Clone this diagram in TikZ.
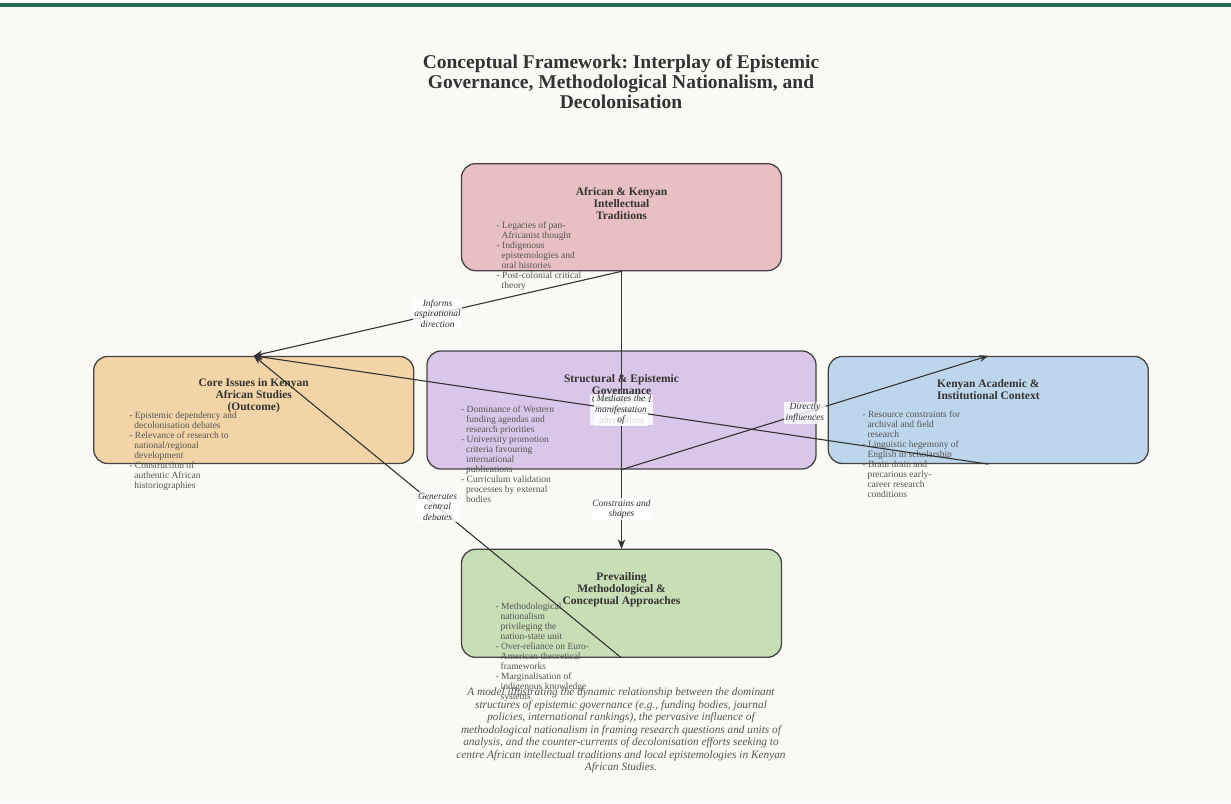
\documentclass[tikz,border=0pt]{standalone}
\usepackage{fontspec}
\setmainfont{Liberation Serif}
\usetikzlibrary{positioning, arrows.meta}
\frenchspacing

\definecolor{framebg}{HTML}{FAF9F6}
\definecolor{topbar}{HTML}{216B52}
\definecolor{titlegray}{HTML}{333333}
\definecolor{bodygray}{HTML}{555555}
\definecolor{edgegray}{HTML}{444444}
\definecolor{linegray}{HTML}{333333}
\definecolor{afrfill}{HTML}{E8BFC3}
\definecolor{corefill}{HTML}{F2D4A6}
\definecolor{govfill}{HTML}{DAC6E8}
\definecolor{kenfill}{HTML}{BED6EB}
\definecolor{methfill}{HTML}{C8DEB6}

\newcommand{\hin}{\hspace*{5pt}}

\begin{document}
\begin{tikzpicture}[x=1pt, y=1pt,
  >={Stealth[length=9pt, width=7pt]},
  panel/.style={draw=edgegray, line width=1.3pt, rounded corners=14pt,
    minimum width=320pt, minimum height=107pt, inner sep=0pt},
  paneltitle/.style={font=\fontsize{11.5}{12}\selectfont\bfseries,
    text=titlegray, align=center, inner sep=0pt},
  panelbody/.style={font=\fontsize{9.5}{10}\selectfont, text=bodygray,
    align=left, inner sep=0pt, anchor=north west},
  flowlabel/.style={font=\fontsize{9.5}{10.5}\selectfont\itshape, text=titlegray,
    align=center, fill=white, fill opacity=0.8, text opacity=1, inner sep=1.5pt},
  flow/.style={->, draw=linegray, line width=1.1pt}]

  % background and top rule
  \fill[framebg] (0,0) rectangle (1231,803);
  \fill[topbar] (0,796) rectangle (1231,799.5);

  \node[font=\fontsize{19.5}{20}\selectfont\bfseries, text=titlegray, align=center,
    inner sep=0pt] (title) at (621,721.5)
  {Conceptual Framework: Interplay of Epistemic\\
   Governance, Methodological Nationalism, and\\
   Decolonisation};

  % panels
  \node[panel, fill=govfill, minimum width=389pt, minimum height=118pt] (gov) at (621.5,393) {};
  \node[panel, fill=afrfill, above=79pt of gov]                          (afr) {};
  \node[panel, fill=corefill, left=12pt of gov]                          (core) {};
  \node[panel, fill=kenfill, right=11pt of gov]                          (ken) {};
  \node[panel, fill=methfill, minimum height=108pt, below=79pt of gov]   (meth) {};

  % panel titles
  \node[paneltitle] (afr title)  at ([yshift=13.5pt]afr.center)
  {African \& Kenyan\\Intellectual\\Traditions};
  \node[paneltitle] (core title) at ([yshift=14.5pt]core.center)
  {Core Issues in Kenyan\\African Studies\\(Outcome)};
  \node[paneltitle] (gov title)  at ([yshift=25.5pt]gov.center)
  {Structural \& Epistemic\\Governance};
  \node[paneltitle] (ken title)  at ([yshift=20pt]ken.center)
  {Kenyan Academic \&\\Institutional Context};
  \node[paneltitle] (meth title) at ([yshift=14pt]meth.center)
  {Prevailing\\Methodological \&\\Conceptual Approaches};

  % panel bullet lists
  \node[panelbody] (afr body)  at ([xshift=-125pt, yshift=-4pt]afr.center)
  {- Legacies of pan-\\\hin Africanist thought\\- Indigenous\\\hin epistemologies and\\
   \hin oral histories\\- Post-colonial critical\\\hin theory};
  \node[panelbody] (core body) at ([xshift=-124.5pt, yshift=-2pt]core.center)
  {- Epistemic dependency and\\\hin decolonisation debates\\- Relevance of research to\\
   \hin national/regional\\\hin development\\- Construction of\\\hin authentic African\\
   \hin historiographies};
  \node[panelbody] (gov body)  at ([xshift=-160.5pt, yshift=4.5pt]gov.center)
  {- Dominance of Western\\\hin funding agendas and\\\hin research priorities\\
   - University promotion\\\hin criteria favouring\\\hin international\\\hin publications\\
   - Curriculum validation\\\hin processes by external\\\hin bodies};
  \node[panelbody] (ken body)  at ([xshift=-126pt, yshift=-1pt]ken.center)
  {- Resource constraints for\\\hin archival and field\\\hin research\\
   - Linguistic hegemony of\\\hin English in scholarship\\- Brain drain and\\
   \hin precarious early-\\\hin career research\\\hin conditions};
  \node[panelbody] (meth body) at ([xshift=-126pt, yshift=0.5pt]meth.center)
  {- Methodological\\\hin nationalism\\\hin privileging the\\\hin nation-state unit\\
   - Over-reliance on Euro-\\\hin American theoretical\\\hin frameworks\\
   - Marginalisation of\\\hin indigenous knowledge\\\hin systems};

  % caption
  \node[font=\fontsize{11.3}{12.5}\selectfont\itshape, text=bodygray, align=center,
    inner sep=0pt] (caption) at (621,72.5)
  {A model illustrating the dynamic relationship between the dominant\\
   structures of epistemic governance (e.g., funding bodies, journal\\
   policies, international rankings), the pervasive influence of\\
   methodological nationalism in framing research questions and units of\\
   analysis, and the counter-currents of decolonisation efforts seeking to\\
   centre African intellectual traditions and local epistemologies in Kenyan\\
   African Studies.};

  % connectors
  \draw[flow] (afr.south)  -- node[flowlabel] {Informs\\aspirational\\direction}      (core.north);
  \draw[flow] (afr.south)  -- node[flowlabel] {Challenges and\\offers\\alternatives} (meth.north);
  \draw[flow] (ken.south)  -- node[flowlabel] {Mediates the\\manifestation\\of}     (core.north);
  \draw[flow] (gov.south)  -- node[flowlabel] {Directly\\influences}                (ken.north);
  \draw[flow] (gov.south)  -- node[flowlabel] {Constrains and\\shapes}              (meth.north);
  \draw[flow] (meth.south) -- node[flowlabel] {Generates\\central\\debates}         (core.north);
\end{tikzpicture}
\end{document}
